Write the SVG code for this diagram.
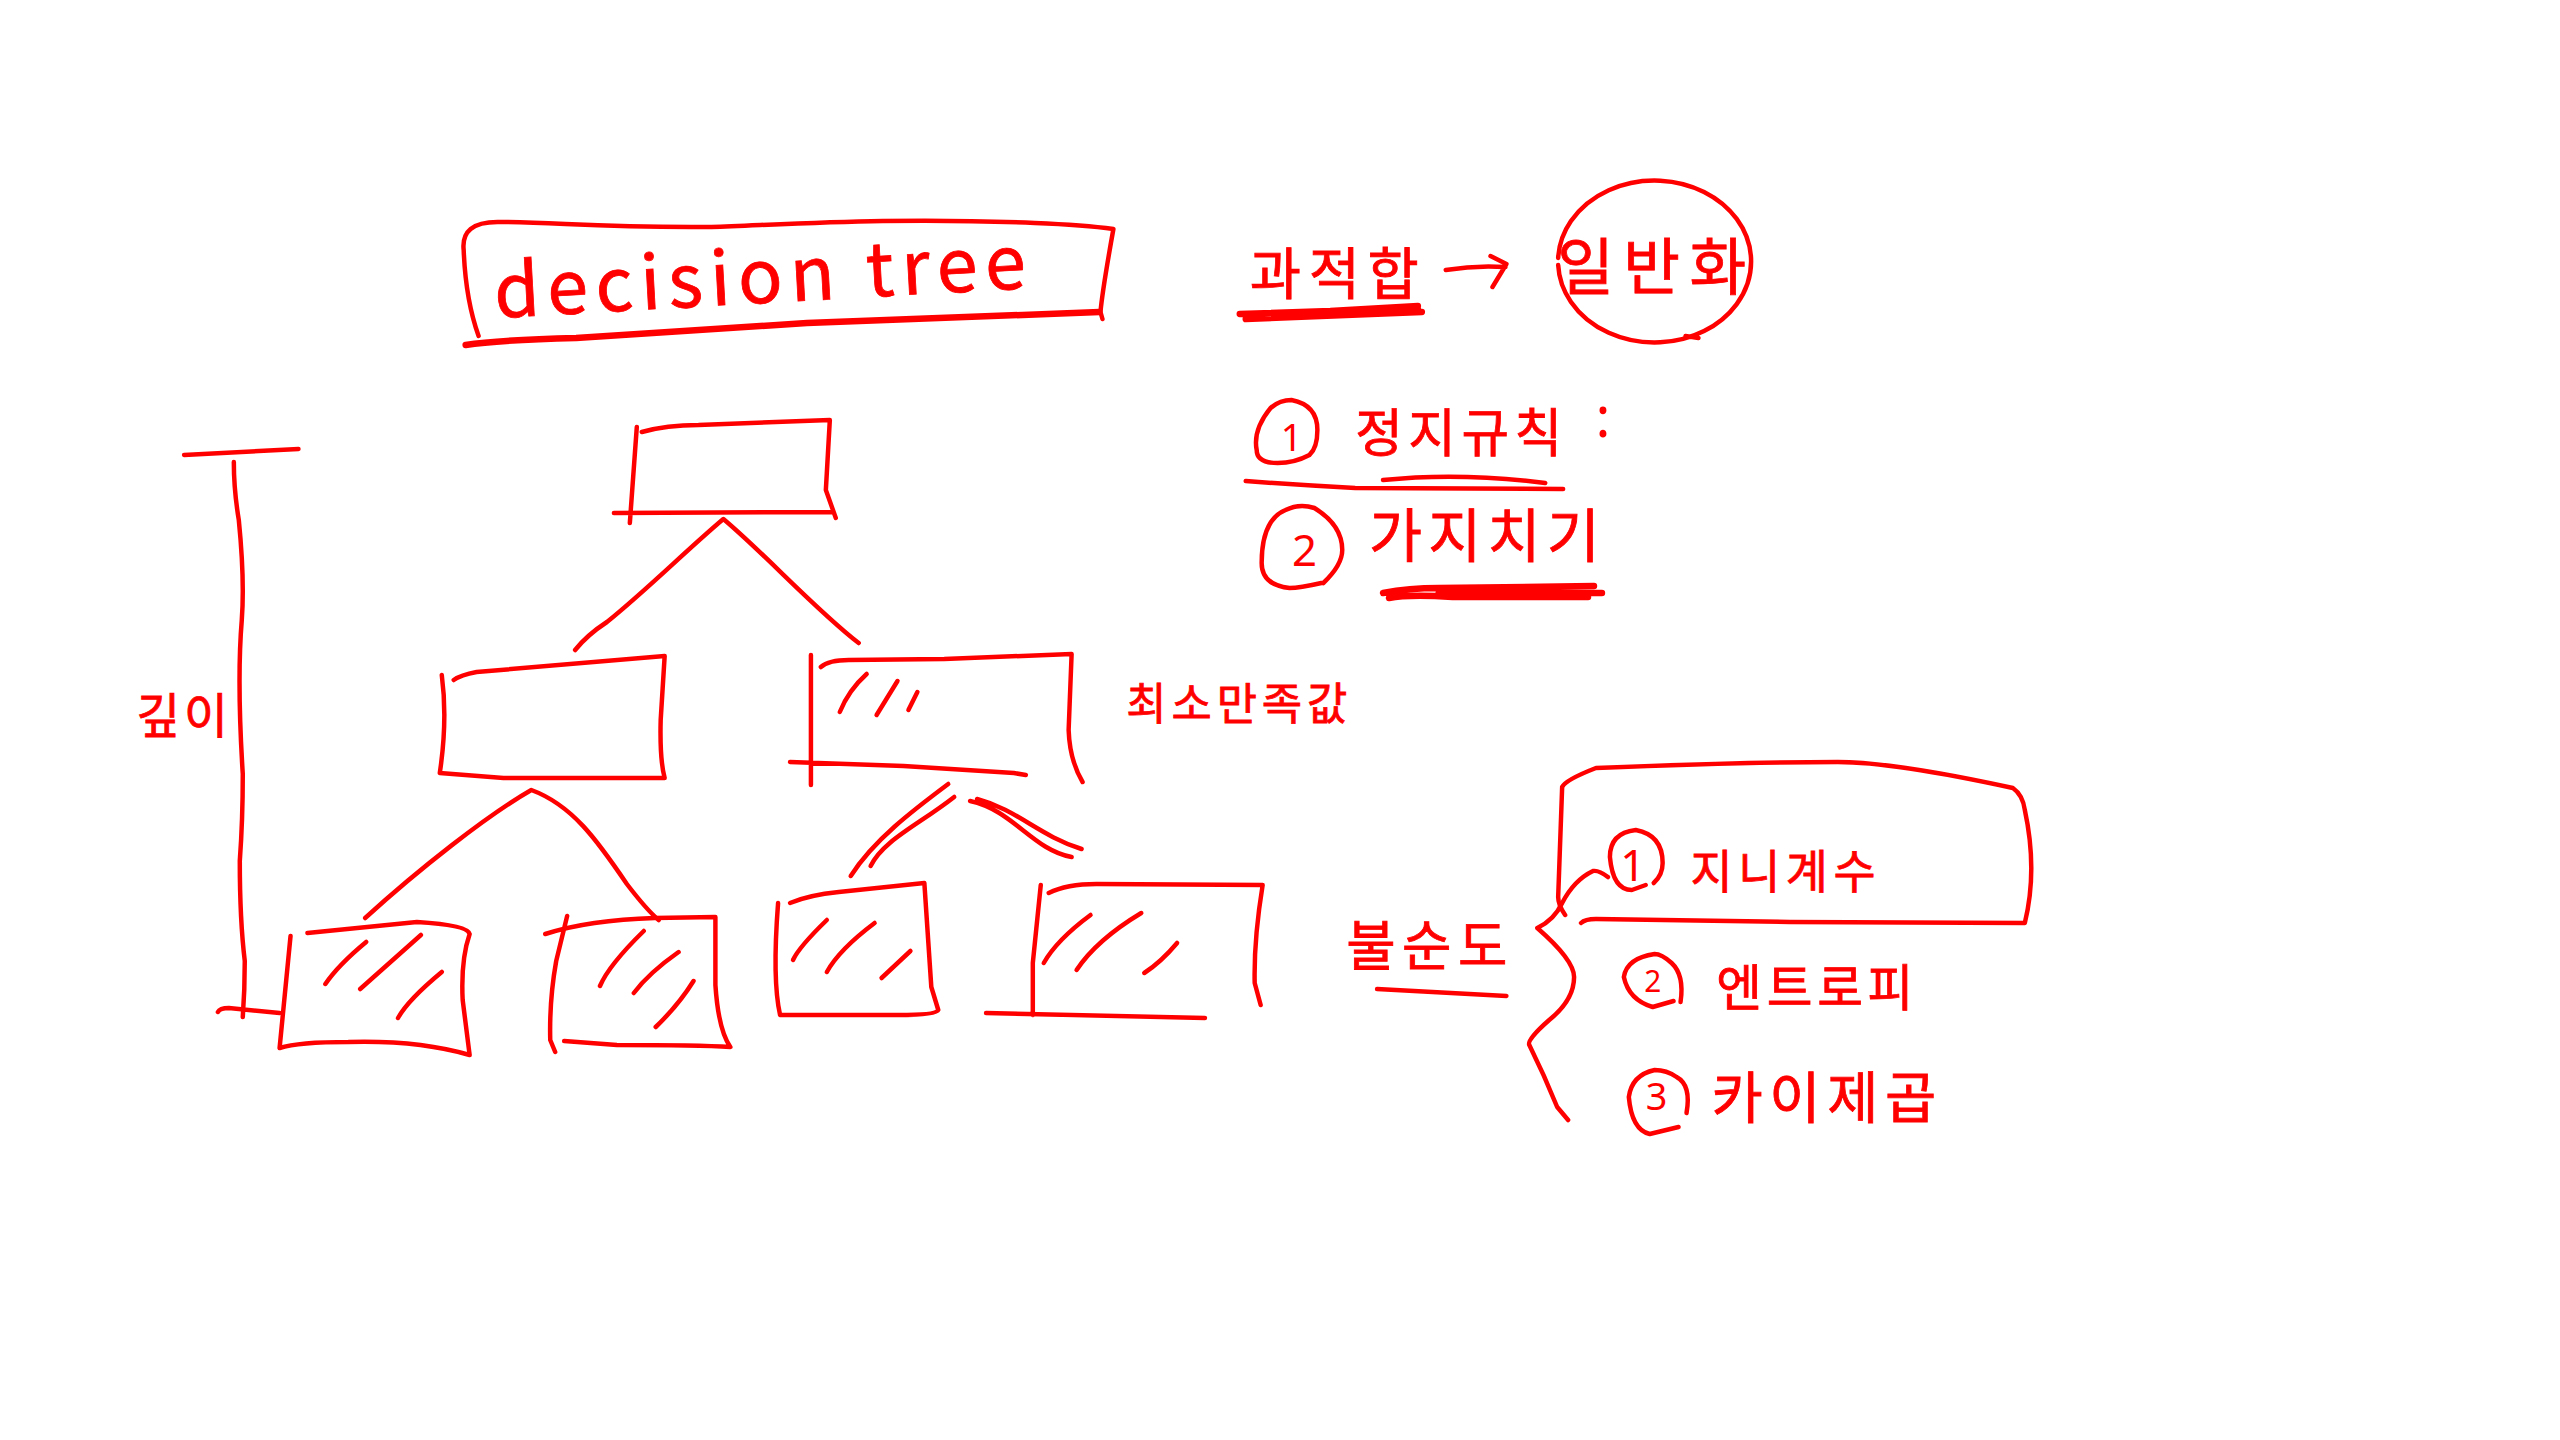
<svg xmlns="http://www.w3.org/2000/svg" width="2560" height="1440" viewBox="0 0 2560 1440">
<style>
.s{fill:none;stroke:#f00;stroke-width:4.5;stroke-linecap:round;stroke-linejoin:round}
.b{stroke-width:6.5}
.t{fill:#f00;stroke:#f00;stroke-width:.8;font-family:"Noto Sans CJK KR","Noto Sans",sans-serif}
.d{fill:#f00;font-family:"Noto Sans","Liberation Sans",sans-serif;text-anchor:middle}
</style>
<rect width="2560" height="1440" fill="#fff"/>
<g transform="matrix(.995 0 0 1 0 0)">
<g id="title">
<path class="s" d="M481 336Q468 300 466 250Q463 222 500 222C560 222 600 228 715 227C800 224 900 217 1040 223Q1090 225 1119 229Q1108 290 1106 312L1108 319"/>
<path class="s b" d="M468 345Q500 340 579 338L811 323L1105 312"/>
<text class="t" font-family="Liberation Sans" font-size="74" textLength="535" transform="translate(498 318) rotate(-3.2)">decision tree</text>
</g>
<g id="overfit">
<text class="t" x="1256" y="294" font-size="56" textLength="170">과적합</text>
<path class="s b" d="M1246 314L1337 311L1425 306M1252 319L1429 312M1300 315L1425 309"/>
</g>
<g id="connectors">
<path class="s" d="M1453 270Q1483 265 1513 267M1498 256L1514 264L1500 287"/>
<path class="s" d="M578 650Q590 635 610 622C650 590 690 550 727 519C770 555 820 610 863 643"/>
<path class="s" d="M367 918C420 870 490 815 534 790C575 805 600 840 630 884Q650 910 662 920"/>
<path class="s" d="M855 876C878 840 918 810 953 784M875 866C888 840 923 825 959 797"/>
<path class="s" d="M975 801C1018 810 1038 850 1077 857M982 799C1023 810 1043 835 1087 849"/>
<path class="s" d="M185 455L300 449M235 462Q235 490 240 520Q246 580 243 620Q238 680 244 774Q244 820 241 861Q241 920 246 961Q246 990 244 1017M219 1012Q221 1008 230 1008L281 1013"/>
</g>
<g id="generalize">
<path class="s" d="M1566 258A97 81 0 1 1 1566 265M1694 336L1707 338"/>
<text class="t" x="1565" y="290" font-size="62" textLength="190">일반화</text>
</g>
<g id="rule1" transform="translate(6 0)">
<path class="s" d="M1271 408Q1280 400 1292 400Q1318 405 1318 430Q1318 448 1310 455Q1295 463 1278 463Q1257 463 1257 450Q1253 430 1271 408"/>
<text class="d" x="1292" y="451" font-size="38">1</text>
<text class="t" x="1356" y="452" font-size="52" textLength="208">정지규칙</text>
<text class="d" x="1605" y="437" font-size="56">:</text>
<path class="s" d="M1246 481Q1300 485 1356 488L1565 489M1384 480Q1460 472 1547 483"/>
</g>
<g id="rule2" transform="translate(6 0)">
<path class="s" d="M1322 583Q1300 588 1290 588Q1262 585 1262 563Q1262 520 1286 510Q1300 503 1315 508Q1343 525 1343 550Q1343 565 1324 583"/>
<text class="d" x="1305" y="566" font-size="44">2</text>
<text class="t" x="1370" y="557" font-size="58" textLength="232">가지치기</text>
<path class="s b" d="M1384 593Q1410 588 1440 588L1596 586M1390 598Q1410 594 1454 597L1590 597M1440 593L1604 593"/>
</g>
<g id="depth">
<text class="t" x="137" y="733" font-size="48" textLength="92">깊이</text>
</g>
<g id="root">
<path class="s" d="M640 427L633 523M645 432Q670 425 702 425L834 420L830 490L840 518M617 513L837 512"/>
</g>
<g id="node-l" transform="translate(3 0)">
<path class="s" d="M441 675Q447 720 439 773L503 778L665 778Q660 760 661 720L665 656L476 672Q460 675 453 680"/>
</g>
<g id="node-r" transform="translate(3 0)">
<path class="s" d="M812 655V785M822 667Q830 660 850 660L946 659L1074 654L1071 730Q1072 760 1085 782M791 762L905 766L1016 773L1028 775"/>
<path class="s" d="M841 712Q850 690 868 674M878 715L899 681M910 710L919 692"/>
<text class="t" x="1129" y="720" font-size="44" textLength="222">최소만족값</text>
</g>
<g id="leaf1">
<path class="s" d="M309 933L419 922Q470 925 472 934Q463 960 465 1000L472 1055Q420 1040 350 1042Q300 1042 281 1048L292 936"/>
<path class="s" d="M327 984Q340 965 368 942M362 989L423 935M400 1018Q410 1000 444 972"/>
</g>
<g id="leaf2" transform="translate(2 0)">
<path class="s" d="M546 934Q590 920 656 918L717 917V985Q720 1030 732 1047Q700 1045 618 1045L565 1041M568 916L557 961Q550 1000 551 1040L556 1052"/>
<path class="s" d="M601 986Q610 965 645 931M635 993Q650 973 680 952M657 1027Q680 1005 695 981"/>
</g>
<g id="leaf3" transform="translate(3 0)">
<path class="s" d="M791 903Q810 895 840 892L926 883L933 987L940 1010Q938 1015 900 1015H781Q773 980 779 903"/>
<path class="s" d="M794 960Q800 947 828 920M828 972Q840 950 876 923M883 978L912 951"/>
</g>
<g id="leaf4" transform="translate(2 0)">
<path class="s" d="M1044 885L1036 963V1015M1052 893Q1070 884 1100 884L1267 885Q1258 940 1259 983L1265 1005M989 1013L1209 1018"/>
<path class="s" d="M1047 963Q1060 940 1094 915M1080 970Q1100 940 1145 913M1148 973Q1165 962 1181 943"/>
</g>
<g id="impurity" transform="translate(7 0)">
<text class="t" x="1346" y="966" font-size="54" textLength="162">불순도</text>
<path class="s" d="M1377 989L1507 996"/>
<path class="s" d="M1609 877Q1600 870 1594 871Q1575 880 1563 903Q1555 920 1538 928Q1575 960 1575 977Q1575 1000 1550 1020Q1527 1040 1530 1045Q1545 1075 1558 1107L1569 1120"/>
</g>
<g id="gini" transform="translate(3 0)">
<path class="s" d="M1570 915Q1563 905 1563 897L1567 787Q1570 780 1601 768Q1750 762 1844 762Q1900 762 2020 788Q2030 795 2032 810Q2045 870 2032 923L1796 922L1601 919Q1590 919 1586 923"/>
<path class="s" d="M1659 883Q1668 875 1668 863Q1668 835 1641 830Q1615 833 1615 857Q1618 890 1637 890L1651 885"/>
<text class="d" x="1638" y="881" font-size="44">1</text>
<text class="t" x="1696" y="888" font-size="46" textLength="186">지니계수</text>
</g>
<g id="entropy" transform="translate(5 0)">
<path class="s" d="M1684 1002Q1688 975 1675 963Q1665 954 1658 954Q1630 958 1627 977Q1632 1000 1656 1007L1677 1001"/>
<text class="d" x="1656" y="992" font-size="30">2</text>
<text class="t" x="1720" y="1006" font-size="50" textLength="198">엔트로피</text>
</g>
<g id="chi" transform="translate(5 0)">
<path class="s" d="M1690 1113Q1695 1085 1680 1077Q1670 1070 1658 1070Q1635 1075 1632 1097Q1635 1130 1653 1134L1682 1127"/>
<text class="d" x="1660" y="1110" font-size="38">3</text>
<text class="t" x="1715" y="1118" font-size="56" textLength="226">카이제곱</text>
</g>
</g>
</svg>
